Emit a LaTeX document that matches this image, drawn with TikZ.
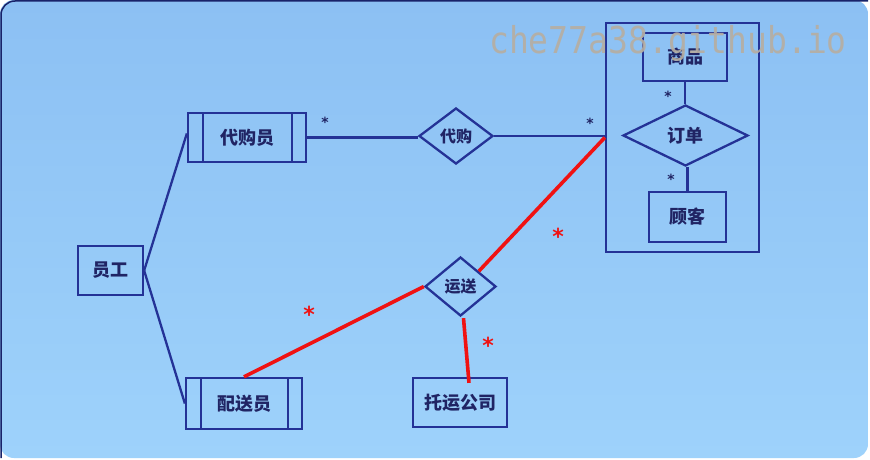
\documentclass[tikz,border=0pt]{standalone}
\usepackage{fontspec}
\newfontfamily\cjk{Noto Sans CJK SC}
\newfontfamily\wmfont{DejaVu Sans Mono}
\newfontfamily\starfont{DejaVu Sans}
\usetikzlibrary{shapes.geometric}
\definecolor{bgtop}{RGB}{140,192,243}
\definecolor{bgbot}{RGB}{158,210,251}
\definecolor{erblue}{RGB}{36,50,150}
\definecolor{ertext}{RGB}{32,36,100}
\definecolor{redline}{RGB}{240,18,18}
\definecolor{wmgray}{RGB}{182,174,162}
\tikzset{
  erline/.style={draw=erblue, line width=2.3pt},
  entity/.style={rectangle, erline, inner sep=0pt, text=ertext,
    font=\cjk\bfseries\fontsize{18}{18}\selectfont},
  weakbox/.style={entity, path picture={
    \draw[erline] ([xshift=15pt]path picture bounding box.north west) -- ([xshift=15pt]path picture bounding box.south west);
    \draw[erline] ([xshift=-14pt]path picture bounding box.north east) -- ([xshift=-14pt]path picture bounding box.south east);}},
  relbox/.style={diamond, erline, inner sep=0pt, text=ertext,
    font=\cjk\bfseries\fontsize{16}{16}\selectfont},
  redconn/.style={draw=redline, line width=3.6pt},
  blackstar/.style={anchor=base, inner sep=0pt, text=ertext, font=\starfont\bfseries\fontsize{14}{14}\selectfont},
  redstar/.style={anchor=base, inner sep=0pt, text=redline, font=\starfont\bfseries\fontsize{22}{22}\selectfont},
}
\begin{document}
\begin{tikzpicture}[x=1pt,y=-1pt]
\useasboundingbox (0,0) rectangle (870,460);
\fill[white] (0,0) rectangle (870,460);
\shade[top color=bgtop, bottom color=bgbot, rounded corners=14pt] (0,0) rectangle (868,458);
\draw[erblue!70!black, line width=1.5pt, rounded corners=14pt] (1,458) -- (1,1) -- (868,1);

% entities
\node[entity, minimum width=65pt, minimum height=49pt] (yg) at (110.5,270.5) {员工};
\node[weakbox, minimum width=118pt, minimum height=49pt] (dgy) at (247,137.5) {代购员};
\node[weakbox, minimum width=116pt, minimum height=51pt] (psy) at (244,403.5) {配送员};
\node[entity, minimum width=94pt, minimum height=49pt] (tygs) at (460,402.5) {托运公司};
\node[rectangle, erline, minimum width=153pt, minimum height=229pt] (agg) at (682.5,137.5) {};
\node[entity, minimum width=84pt, minimum height=48pt] (sp) at (685,57) {商品};
\node[entity, minimum width=77pt, minimum height=50pt] (gk) at (687.5,217) {顾客};

% relationships
\node[relbox, minimum width=74pt, minimum height=56pt] (dg) at (456,136) {代购};
\node[relbox, minimum width=125pt, minimum height=61pt, font=\cjk\bfseries\fontsize{18}{18}\selectfont] (dd) at (685.5,135.5) {订单};
\node[relbox, minimum width=71pt, minimum height=59pt] (ys) at (460.5,286.5) {运送};

% connectors
\draw[erline] (yg.east) -- ([yshift=4pt]dgy.west);
\draw[erline] (yg.east) -- (psy.west);
\draw[erline] (dgy.east) -- (dgy.east -| dg.west);
\draw[erline] (dg.east) -- (dg.east -| agg.west);
\draw[erline] (sp.south) -- (sp.south |- dd.north);
\draw[erline] (dd.south -| gk.north) -- (gk.north);

% red connectors
\draw[redconn] (psy.north) -- (ys.west);
\draw[redconn] (ys.north east) -- (agg.west);
\draw[redconn] ([xshift=3pt,yshift=-1pt]ys.south) -- ([xshift=9pt,yshift=-6pt]tygs.north);

% multiplicities
\node[blackstar] (m1) at (325,127) {*};
\node[blackstar] (m2) at (590,128) {*};
\node[blackstar] (m3) at (668,101) {*};
\node[blackstar] (m4) at (671,184) {*};
\node[redstar] (r1) at (309,322) {*};
\node[redstar] (r2) at (558,244) {*};
\node[redstar] (r3) at (488,353) {*};

% watermark
\node[anchor=base west, inner sep=0pt, text=wmgray, opacity=0.92,
  font=\wmfont\fontsize{33}{33}\selectfont] (wm) at (489,54) {\scalebox{1}[1.12]{che77a38.github.io}};
\end{tikzpicture}
\end{document}
